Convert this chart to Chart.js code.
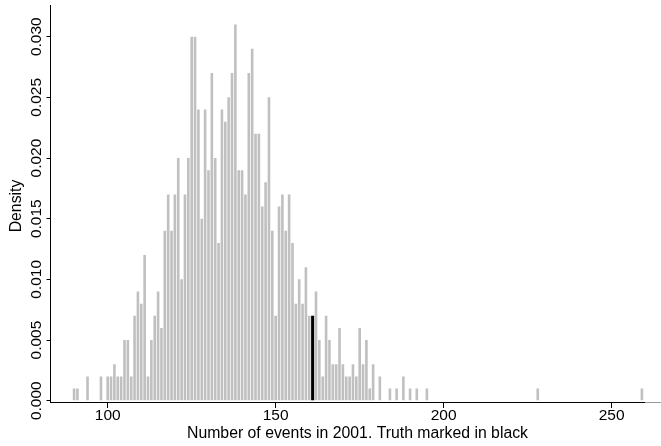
<!DOCTYPE html>
<html>
<head>
<meta charset="utf-8">
<script src="https://cdn.jsdelivr.net/npm/chart.js@4"></script>
<style>
  html, body { margin: 0; padding: 0; background: #fff; }
  #wrap { width: 661px; height: 446px; }
</style>
</head>
<body>
<div id="wrap"><canvas id="histChart" width="661" height="446"></canvas></div>
<script>
// histogram bins (number of events) and their density
const bins = [
  90, 91, 94, 98, 100, 101, 102, 103, 104, 105, 106, 107, 108, 109, 110,
  111, 112, 113, 114, 115, 116, 117, 118, 119, 120, 121, 122, 123, 124, 125,
  126, 127, 128, 129, 130, 131, 132, 133, 134, 135, 136, 137, 138, 139, 140,
  141, 142, 143, 144, 145, 146, 147, 148, 149, 150, 151, 152, 153, 154, 155,
  156, 157, 158, 159, 160, 161, 162, 163, 164, 165, 166, 167, 168, 169, 170,
  171, 172, 173, 174, 175, 176, 177, 178, 179, 181, 184, 186, 188, 190, 192,
  195, 228, 259
];
const density = [
  0.001, 0.001, 0.002, 0.002, 0.002, 0.002, 0.003, 0.002, 0.002, 0.005, 0.005, 0.002, 0.007, 0.009, 0.008,
  0.012, 0.002, 0.005, 0.007, 0.009, 0.006, 0.014, 0.017, 0.014, 0.017, 0.020, 0.010, 0.017, 0.020, 0.030,
  0.030, 0.024, 0.015, 0.024, 0.019, 0.027, 0.020, 0.013, 0.024, 0.023, 0.025, 0.027, 0.031, 0.019, 0.019,
  0.017, 0.027, 0.029, 0.022, 0.022, 0.016, 0.018, 0.025, 0.014, 0.007, 0.016, 0.017, 0.014, 0.017, 0.013,
  0.008, 0.010, 0.008, 0.011, 0.007, 0.007, 0.009, 0.005, 0.002, 0.007, 0.005, 0.003, 0.003, 0.006, 0.003,
  0.002, 0.002, 0.003, 0.002, 0.006, 0.003, 0.005, 0.001, 0.003, 0.002, 0.001, 0.001, 0.002, 0.001, 0.001,
  0.001, 0.001, 0.001
];

// the true value, drawn in black
const truthBin = [161];
const truthDensity = [0.007];

const xTickValues = [100, 150, 200, 250];
const xTickLabels = ["100", "150", "200", "250"];
const yTickValues = [0, 0.005, 0.010, 0.015, 0.020, 0.025, 0.030];
const yTickLabels = ["0.000", "0.005", "0.010", "0.015", "0.020", "0.025", "0.030"];

const xTitle = "Number of events in 2001. Truth marked in black";
const yTitle = "Density";

const FONT = '"Liberation Sans", Arial, sans-serif';

// tick labels, titles and the bottom axis line
const axisText = {
  id: "axisText",
  afterDraw(chart) {
    const { ctx, chartArea, scales } = chart;
    const xs = scales.x, ys = scales.y;
    ctx.save();

    // bottom axis line
    ctx.fillStyle = "#000";
    ctx.fillRect(chartArea.left, chartArea.bottom, 645 - chartArea.left, 1);
    ctx.fillStyle = "#9a9a9a";
    ctx.fillRect(645, chartArea.bottom, chartArea.right - 645, 1);

    ctx.fillStyle = "#000";
    ctx.font = `15.5px ${FONT}`;
    ctx.textAlign = "center";
    ctx.textBaseline = "alphabetic";
    xTickValues.forEach((v, i) => {
      ctx.fillText(xTickLabels[i], xs.getPixelForValue(v), 420);
    });

    yTickValues.forEach((v, i) => {
      ctx.save();
      ctx.translate(40.7, ys.getPixelForValue(v));
      ctx.rotate(-Math.PI / 2);
      ctx.fillText(yTickLabels[i], 0, 0);
      ctx.restore();
    });

    ctx.font = `15.8px ${FONT}`;
    ctx.fillText(xTitle, 357.5, 438.3);

    ctx.save();
    ctx.translate(21, 206);
    ctx.rotate(-Math.PI / 2);
    ctx.fillText(yTitle, 0, 0);
    ctx.restore();

    ctx.restore();
  }
};

const ctx = document.getElementById("histChart");
new Chart(ctx, {
  type: "bar",
  data: {
    datasets: [
      {
        label: "Truth",
        data: truthBin.map((x, i) => ({ x, y: truthDensity[i] })),
        backgroundColor: "#000",
        grouped: false,
        barPercentage: 0.9,
        categoryPercentage: 1,
        order: 0
      },
      {
        label: "Density",
        data: bins.map((x, i) => ({ x, y: density[i] })),
        backgroundColor: "#c0c0c0",
        grouped: false,
        barPercentage: 0.78,
        categoryPercentage: 1,
        order: 1
      }
    ]
  },
  options: {
    responsive: false,
    animation: false,
    devicePixelRatio: 1,
    layout: { padding: { top: 5, right: 0, bottom: 0, left: 0 } },
    plugins: {
      legend: { display: false },
      tooltip: { enabled: false }
    },
    scales: {
      x: {
        type: "linear",
        min: 82.98,
        max: 264.68,
        offset: false,
        grid: { offset: false, drawOnChartArea: false, drawTicks: true, tickLength: 6, color: "#000", lineWidth: 1 },
        border: { display: false },
        ticks: { display: false },
        afterBuildTicks: s => { s.ticks = xTickValues.map(v => ({ value: v })); },
        afterFit: s => { s.height = 44; }
      },
      y: {
        type: "linear",
        min: -0.000107,
        max: 0.032613,
        grid: { drawOnChartArea: false, drawTicks: true, tickLength: 4, color: "#000", lineWidth: 1 },
        border: { display: true, color: "#000", width: 1 },
        ticks: { display: false },
        afterBuildTicks: s => { s.ticks = yTickValues.map(v => ({ value: v })); },
        afterFit: s => { s.width = 50.5; }
      }
    }
  },
  plugins: [axisText]
});
</script>
</body>
</html>
